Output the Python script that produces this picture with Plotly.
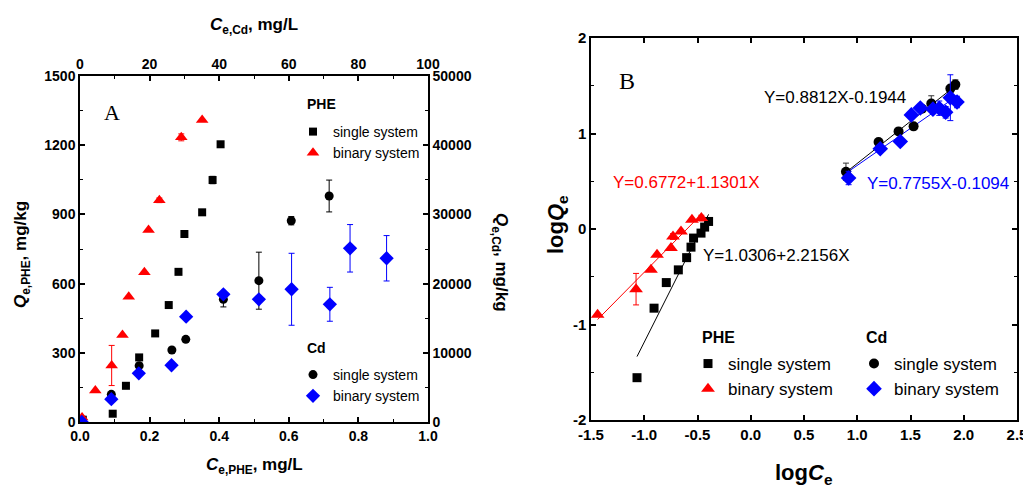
import plotly.graph_objects as go

# ---- panel A: isotherms ----
phe_single_ce = [0.008, 0.094, 0.132, 0.170, 0.216, 0.255, 0.283, 0.300, 0.351, 0.381, 0.404]
phe_single_q = [10, 36, 157, 280, 384, 507, 651, 815, 909, 1049, 1204]
phe_single_err = [0, 0, 0, 0, 0, 0, 0, 0, 0, 16, 0]

phe_binary_ce = [0.006, 0.044, 0.091, 0.122, 0.140, 0.185, 0.197, 0.228, 0.291, 0.351]
phe_binary_q = [20, 137, 245, 377, 543, 649, 832, 961, 1234, 1309]
phe_binary_err = [0, 0, 87, 0, 0, 0, 0, 10, 15, 0]

cd_single_ce = [0.5, 9.0, 17.0, 26.4, 30.4, 41.2, 51.4, 60.7, 71.6]
cd_single_q = [0, 4000, 8140, 10400, 11950, 17730, 20420, 29090, 32660]
cd_single_err = [0, 300, 300, 0, 0, 1100, 4120, 600, 2300]

cd_binary_ce = [0.5, 9.0, 16.9, 26.3, 30.5, 41.2, 51.4, 60.8, 71.8, 77.6, 88.1]
cd_binary_q = [0, 3300, 7040, 8200, 15220, 18450, 17730, 19180, 17010, 25100, 23660]
cd_binary_err = [0, 300, 0, 0, 0, 300, 0, 5200, 2450, 3430, 3280]

# ---- panel B: Freundlich (log-log) ----
phe_single_logc = [-1.068, -0.908, -0.793, -0.680, -0.602, -0.561, -0.537, -0.467, -0.433, -0.396]
phe_single_logq = [-1.557, -0.829, -0.561, -0.428, -0.300, -0.190, -0.095, -0.043, 0.020, 0.079]

phe_binary_logc = [-1.438, -1.077, -0.937, -0.880, -0.749, -0.730, -0.655, -0.552, -0.464]
phe_binary_logq = [-0.899, -0.630, -0.428, -0.270, -0.200, -0.079, -0.026, 0.096, 0.114]
phe_binary_logerr = [0, 0.165, 0, 0, 0, 0.03, 0, 0, 0.03]

cd_single_logc = [0.894, 1.200, 1.388, 1.529, 1.608, 1.695, 1.874, 1.921]
cd_single_logq = [0.600, 0.911, 1.022, 1.075, 1.260, 1.315, 1.470, 1.512]
cd_single_logerr = [0.09, 0, 0, 0, 0, 0.08, 0, 0.05]

cd_binary_logc = [0.919, 1.216, 1.404, 1.508, 1.592, 1.711, 1.770, 1.830, 1.874, 1.937]
cd_binary_logq = [0.534, 0.841, 0.917, 1.195, 1.267, 1.255, 1.265, 1.222, 1.375, 1.330]
cd_binary_logerr = [0.07, 0, 0, 0, 0, 0, 0.075, 0.06, 0.24, 0.06]

# fitted lines (slope, intercept) as printed on the chart
fit_phe_single = (2.2156, 1.0306)
fit_phe_binary = (1.1301, 0.6772)
fit_cd_single = (0.8812, -0.1944)
fit_cd_binary = (0.7755, -0.1094)

# tick values
a_x_ticks = [0.0, 0.2, 0.4, 0.6, 0.8, 1.0]
a_x2_ticks = [0, 20, 40, 60, 80, 100]
a_y_ticks = [0, 300, 600, 900, 1200, 1500]
a_y2_ticks = [0, 10000, 20000, 30000, 40000, 50000]
b_x_ticks = [-1.5, -1.0, -0.5, 0.0, 0.5, 1.0, 1.5, 2.0, 2.5]
b_y_ticks = [-2, -1, 0, 1, 2]

W, H = 1031, 492
OFF = 8  # page body margin


def px(x):
    return (x - OFF) / W


def py(y):
    return 1 - (y - OFF) / H


BLACK = "black"
RED = "#ff0000"
BLUE = "#0000ff"
FONT = "Liberation Sans, Arial, sans-serif"


def errs(vals, color):
    return dict(type="data", array=vals, visible=True, color=color, thickness=1, width=3)


def bold_ticks(vals, fmt):
    return dict(tickmode="array", tickvals=vals, ticktext=["<b>" + fmt.format(v) + "</b>" for v in vals])


fig = go.Figure()

# panel A traces
fig.add_trace(go.Scatter(x=phe_single_ce, y=phe_single_q, mode="markers", name="single system",
                         marker=dict(symbol="square", size=8, color=BLACK),
                         error_y=errs(phe_single_err, BLACK), xaxis="x", yaxis="y", legend="legend"))
fig.add_trace(go.Scatter(x=phe_binary_ce, y=phe_binary_q, mode="markers", name="binary system",
                         marker=dict(symbol="triangle-up", size=11, color=RED),
                         error_y=errs(phe_binary_err, RED), xaxis="x", yaxis="y", legend="legend"))
fig.add_trace(go.Scatter(x=cd_single_ce, y=cd_single_q, mode="markers", name="single system",
                         marker=dict(symbol="circle", size=9, color=BLACK),
                         error_y=errs(cd_single_err, BLACK), xaxis="x2", yaxis="y2", legend="legend2"))
fig.add_trace(go.Scatter(x=cd_binary_ce, y=cd_binary_q, mode="markers", name="binary system",
                         marker=dict(symbol="diamond", size=11, color=BLUE),
                         error_y=errs(cd_binary_err, BLUE), xaxis="x2", yaxis="y2", legend="legend2"))

# panel B fit lines
for xs, fit, col in [(phe_single_logc, fit_phe_single, BLACK),
                     (phe_binary_logc, fit_phe_binary, RED),
                     (cd_single_logc, fit_cd_single, BLACK),
                     (cd_binary_logc, fit_cd_binary, BLUE)]:
    lx = [min(xs), max(xs)]
    ly = [fit[0] * v + fit[1] for v in lx]
    fig.add_trace(go.Scatter(x=lx, y=ly, mode="lines", line=dict(color=col, width=1),
                             showlegend=False, xaxis="x3", yaxis="y3"))

# panel B traces
fig.add_trace(go.Scatter(x=phe_single_logc, y=phe_single_logq, mode="markers", name="single system",
                         marker=dict(symbol="square", size=9, color=BLACK),
                         xaxis="x3", yaxis="y3", legend="legend3"))
fig.add_trace(go.Scatter(x=phe_binary_logc, y=phe_binary_logq, mode="markers", name="binary system",
                         marker=dict(symbol="triangle-up", size=12, color=RED),
                         error_y=errs(phe_binary_logerr, RED), xaxis="x3", yaxis="y3", legend="legend3"))
fig.add_trace(go.Scatter(x=cd_single_logc, y=cd_single_logq, mode="markers", name="single system",
                         marker=dict(symbol="circle", size=10, color=BLACK),
                         error_y=errs(cd_single_logerr, "#333333"), xaxis="x3", yaxis="y3", legend="legend4"))
fig.add_trace(go.Scatter(x=cd_binary_logc, y=cd_binary_logq, mode="markers", name="binary system",
                         marker=dict(symbol="diamond", size=12, color=BLUE),
                         error_y=errs(cd_binary_logerr, BLUE), xaxis="x3", yaxis="y3", legend="legend4"))


def ax(size=14, **kw):
    d = dict(showline=True, linecolor="black", linewidth=1.5, ticks="inside", ticklen=5,
             tickwidth=1.5, tickcolor="black", showgrid=False, zeroline=False, automargin=False,
             tickfont=dict(family=FONT, size=size, color="black"))
    d.update(kw)
    return d


def minor(step):
    return dict(ticks="inside", dtick=step, ticklen=3, tickwidth=1.2, tickcolor="black")


A_x = [px(80), px(428)]
A_y = [py(422), py(76)]
B_x = [px(591), px(1017)]
B_y = [py(420), py(38)]

fig.update_layout(
    width=W, height=H, autosize=False,
    margin=dict(l=0, r=0, t=0, b=0),
    paper_bgcolor="white", plot_bgcolor="white",
    xaxis=ax(domain=A_x, range=[0, 1], anchor="y", minor=minor(0.1), **bold_ticks(a_x_ticks, "{:.1f}")),
    xaxis2=ax(domain=A_x, range=[0, 100], side="top", overlaying="x", anchor="y", minor=minor(10),
              **bold_ticks(a_x2_ticks, "{:d}")),
    yaxis=ax(domain=A_y, range=[0, 1500], anchor="x", minor=minor(150), **bold_ticks(a_y_ticks, "{:d}")),
    yaxis2=ax(domain=A_y, range=[0, 50000], side="right", overlaying="y", anchor="x", minor=minor(5000),
              **bold_ticks(a_y2_ticks, "{:d}")),
    xaxis3=ax(size=15, domain=B_x, range=[-1.5, 2.5], anchor="y3", mirror="allticks",
              **bold_ticks(b_x_ticks, "{:.1f}")),
    yaxis3=ax(size=15, domain=B_y, range=[-2, 2], anchor="x3", mirror="allticks", minor=minor(0.5),
              **bold_ticks(b_y_ticks, "{:d}")),
    showlegend=True,
)

leg_a = dict(bgcolor="rgba(0,0,0,0)", font=dict(family=FONT, size=14, color="black"),
             xanchor="left", yanchor="top", tracegroupgap=0, itemclick=False)
leg_b = dict(leg_a, font=dict(family=FONT, size=17, color="black"))
fig.update_layout(
    legend=dict(x=px(293), y=py(116), **leg_a),
    legend2=dict(x=px(293), y=py(359), **leg_a),
    legend3=dict(x=px(688), y=py(346), **leg_b),
    legend4=dict(x=px(854), y=py(346), **leg_b),
)

ann = []


def text(x, y, s, size, color="black", angle=0, family=FONT, xanchor="center"):
    ann.append(dict(x=px(x), y=py(y), xref="paper", yref="paper", text=s, showarrow=False,
                    textangle=angle, xanchor=xanchor, yanchor="middle",
                    font=dict(family=family, size=size, color=color)))


# axis titles
text(254, 466, "<b><i>C</i><sub>e,PHE</sub>, mg/L</b>", 17)
text(254, 26, "<b><i>C</i><sub>e,Cd</sub>, mg/L</b>", 17)
text(22, 255, "<b><i>Q</i><sub>e,PHE</sub>, mg/kg</b>", 17, angle=-90)
text(500, 262, "<b><i>Q</i><sub>e,Cd</sub>, mg/kg</b>", 17, angle=90)
text(804, 474, "<b>log<i>C</i><sub>e</sub></b>", 22)
text(557, 225, "<b>log<i>Q</i><sub>e</sub></b>", 22, angle=-90)

# legend group headers
text(305, 104, "<b>PHE</b>", 14, xanchor="left")
text(305, 348, "<b>Cd</b>", 14, xanchor="left")
text(700, 337, "<b>PHE</b>", 16, xanchor="left")
text(864, 337, "<b>Cd</b>", 16, xanchor="left")

# panel labels
text(112, 113, "A", 22, family="Liberation Serif, Times New Roman, serif")
text(627, 81, "B", 24, family="Liberation Serif, Times New Roman, serif")

# fitted equations
text(835, 98, "Y=0.8812X-0.1944", 17)
text(938, 183, "Y=0.7755X-0.1094", 17, color=BLUE)
text(686, 182, "Y=0.6772+1.1301X", 17, color=RED)
text(776, 255, "Y=1.0306+2.2156X", 17)

fig.update_layout(annotations=ann)

fig.write_html("out.html")
